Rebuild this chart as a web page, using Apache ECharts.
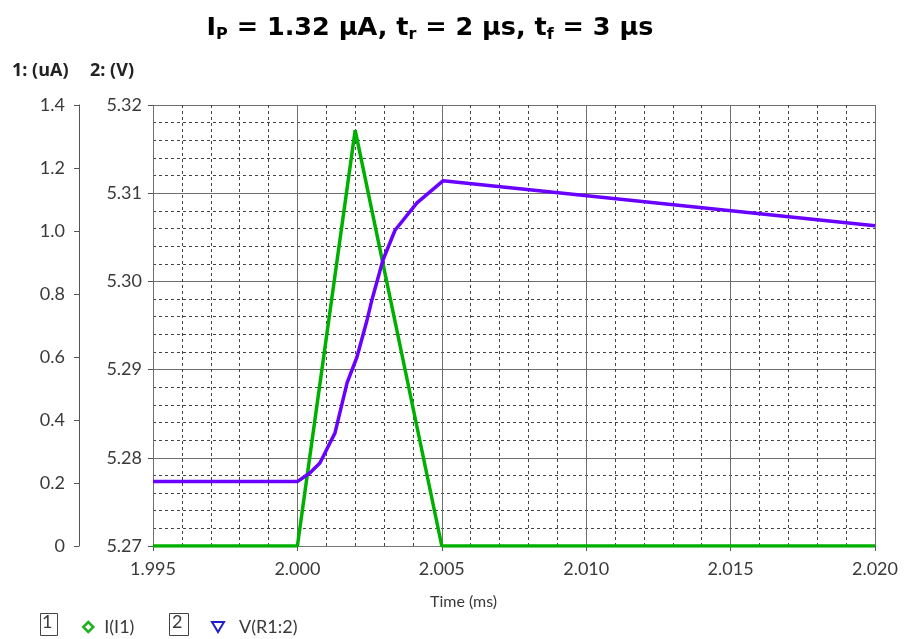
<!DOCTYPE html>
<html>
<head>
<meta charset="utf-8">
<script src="https://cdn.jsdelivr.net/npm/echarts@6/dist/echarts.min.js"></script>
<style>
  html, body { margin: 0; padding: 0; background: #fff; }
  #chart { width: 906px; height: 639px; }
</style>
</head>
<body>
<div id="chart"></div>
<script>
// trace 1: I(I1) in uA, time in ms
const timeI = [1.995, 2.000, 2.002, 2.005, 2.020];
const currentI = [0, 0, 1.32, 0, 0];

// trace 2: V(R1:2) in V
const timeV = [1.995, 2.000, 2.00044, 2.00078, 2.00113, 2.0013, 2.00172, 2.00206, 2.00241,
  2.00258, 2.00296, 2.00338, 2.00414, 2.00504, 2.020];
const voltageV = [5.2773, 5.2773, 5.2783, 5.2794, 5.2817, 5.2828, 5.2885, 5.2914, 5.2956,
  5.2979, 5.3024, 5.3058, 5.3089, 5.3114, 5.3063];

const chart = echarts.init(document.getElementById("chart"));

const labelFont = "Lato";
const labelColor = "#3a3a3a";

chart.setOption({
  animation: false,
  title: {
    left: 425,
    textAlign: "center",
    top: 6,
    text: "{b|I}{s|P}{b| = 1.32 μA, t}{s|r}{b| = 2 μs, t}{s|f}{b| = 3 μs}",
    textStyle: {
      rich: {
        b: { fontFamily: "DejaVu Sans", fontWeight: "bold", fontSize: 25.5, color: "#000", lineHeight: 34 },
        s: { fontFamily: "DejaVu Sans", fontSize: 16, color: "#000", padding: [14, 0, 0, 0], lineHeight: 34 }
      }
    }
  },
  grid: { left: 153, right: 31, top: 105, bottom: 93 },
  xAxis: {
    type: "value",
    min: 1.995,
    max: 2.020,
    interval: 0.005,
    axisLine: { show: true, onZero: false, lineStyle: { color: "#777", width: 1 } },
    axisTick: { show: true, length: 5, lineStyle: { color: "#555" } },
    axisLabel: {
      margin: 14, fontFamily: labelFont, fontSize: 18, color: labelColor,
      formatter: v => v.toFixed(3)
    },
    splitLine: { show: true, lineStyle: { color: "#6e6e6e", width: 1 } },
    minorTick: { show: false, splitNumber: 5 },
    minorSplitLine: { show: true, lineStyle: { color: "#444", width: 1, type: [3, 3] } }
  },
  yAxis: [
    {
      type: "value",
      position: "left",
      min: 5.27,
      max: 5.32,
      interval: 0.01,
      axisLine: { show: false },
      axisTick: { show: true, length: 5, lineStyle: { color: "#555" } },
      axisLabel: {
        margin: 11, fontFamily: labelFont, fontSize: 18, color: labelColor,
        formatter: v => v.toFixed(2)
      },
      splitLine: { show: true, lineStyle: { color: "#6e6e6e", width: 1 } },
      minorTick: { show: false, splitNumber: 5 },
      minorSplitLine: { show: true, lineStyle: { color: "#444", width: 1, type: [3, 3] } }
    },
    {
      type: "value",
      position: "left",
      offset: 74,
      min: 0,
      max: 1.4,
      interval: 0.2,
      axisLine: { show: true, lineStyle: { color: "#555", width: 1 } },
      axisTick: { show: true, length: 5, lineStyle: { color: "#555" } },
      axisLabel: {
        margin: 14, fontFamily: labelFont, fontSize: 18, color: labelColor,
        formatter: v => (v === 0 ? "0" : v.toFixed(1))
      },
      splitLine: { show: false }
    }
  ],
  legend: [
    {
      left: 77, top: 613, itemWidth: 10, itemHeight: 10, itemGap: 10,
      textStyle: { fontFamily: labelFont, fontSize: 18, color: labelColor, padding: [0, 0, 0, 6] },
      data: [{ name: "I(I1)", icon: "diamond", itemStyle: { color: "#fff", borderColor: "#1fb21f", borderWidth: 2.5 } }]
    },
    {
      left: 206, top: 613, itemWidth: 12, itemHeight: 10, itemGap: 10,
      textStyle: { fontFamily: labelFont, fontSize: 18, color: labelColor, padding: [0, 0, 0, 10] },
      data: [{ name: "V(R1:2)", icon: "path://M0,0 L12,0 L6,10 Z", itemStyle: { color: "#fff", borderColor: "#2020c8", borderWidth: 2 } }]
    }
  ],
  graphic: [
    { type: "text", left: 12, top: 62, style: { text: "1: (uA)", font: "bold 18px 'Open Sans'", fill: "#222" } },
    { type: "text", left: 90, top: 62, style: { text: "2: (V)", font: "bold 18px 'Open Sans'", fill: "#222" } },
    { type: "text", left: 430, top: 594, style: { text: "Time (ms)", font: "16px Lato", fill: labelColor } },
    { type: "rect", left: 38, top: 611, shape: { width: 17, height: 22 }, style: { fill: "none", stroke: "#444", lineWidth: 1 } },
    { type: "text", left: 42, top: 613, style: { text: "1", font: "18px Lato", fill: labelColor } },
    { type: "rect", left: 167, top: 611, shape: { width: 19, height: 22 }, style: { fill: "none", stroke: "#444", lineWidth: 1 } },
    { type: "text", left: 172, top: 613, style: { text: "2", font: "18px Lato", fill: labelColor } }
  ],
  series: [
    {
      name: "I(I1)",
      type: "line",
      yAxisIndex: 1,
      symbol: "none",
      z: 3,
      lineStyle: { color: "#00b000", width: 3.5 },
      itemStyle: { color: "#00b000" },
      data: timeI.map((t, i) => [t, currentI[i]])
    },
    {
      name: "V(R1:2)",
      type: "line",
      yAxisIndex: 0,
      symbol: "none",
      z: 4,
      lineStyle: { color: "#6a00ff", width: 3.5 },
      itemStyle: { color: "#6a00ff" },
      data: timeV.map((t, i) => [t, voltageV[i]])
    }
  ]
});
</script>
</body>
</html>
